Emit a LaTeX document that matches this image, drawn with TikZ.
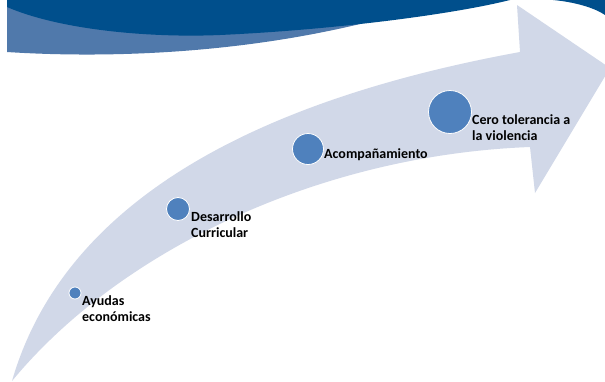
\documentclass[tikz,border=0pt]{standalone}
\usepackage{fontspec}
\setmainfont{Carlito}
\definecolor{bannerdark}{RGB}{0,79,140}
\definecolor{bannerlight}{RGB}{80,121,171}
\definecolor{arrowfill}{RGB}{209,216,232}
\definecolor{dotblue}{RGB}{79,129,189}
\tikzset{
  dot/.style={circle, fill=dotblue, draw=white, line width=0.8pt, inner sep=0pt},
  lbl/.style={anchor=west, inner sep=0pt, align=left, font=\bfseries\fontsize{14}{16}\selectfont, text=black}
}
\begin{document}
\begin{tikzpicture}[x=1pt,y=-1pt]
\useasboundingbox (0,0) rectangle (605,381);
\clip (0,0) rectangle (605,381);
\fill[white] (0,0) rectangle (605,381);
% banner
\fill[bannerlight] (7,0) -- (7,52) .. controls (100,58) and (230,55) .. (360,24) -- (360,0) -- cycle;
\fill[bannerdark] (7,0) -- (7,7) .. controls (60,30) and (150,38) .. (220,35)
  .. controls (330,30) and (450,15) .. (510,0) -- cycle;
\fill[bannerdark] (553,0) .. controls (575,2) and (595,8) .. (605,15) -- (605,0) -- cycle;
% arrow
\fill[arrowfill] (12,381) .. controls (60,215) and (230,105) .. (520,52)
  -- (517,5) -- (610,68) -- (535,193) -- (530,147)
  .. controls (320,155) and (120,250) .. (12,381) -- cycle;
% dots
\node[dot, minimum size=12pt] (d1) at (75,293) {};
\node[dot, minimum size=23pt] (d2) at (178,209) {};
\node[dot, minimum size=31pt] (d3) at (308,149) {};
\node[dot, minimum size=43pt] (d4) at (450,112) {};
% labels
\node[lbl] (t1) at (82,308.5) {Ayudas\\económicas};
\node[lbl] (t2) at (191,225) {Desarrollo\\Curricular};
\node[lbl] (t3) at (324,155) {Acompañamiento};
\node[lbl] (t4) at (472,127.5) {Cero tolerancia a\\la violencia};
\end{tikzpicture}
\end{document}
